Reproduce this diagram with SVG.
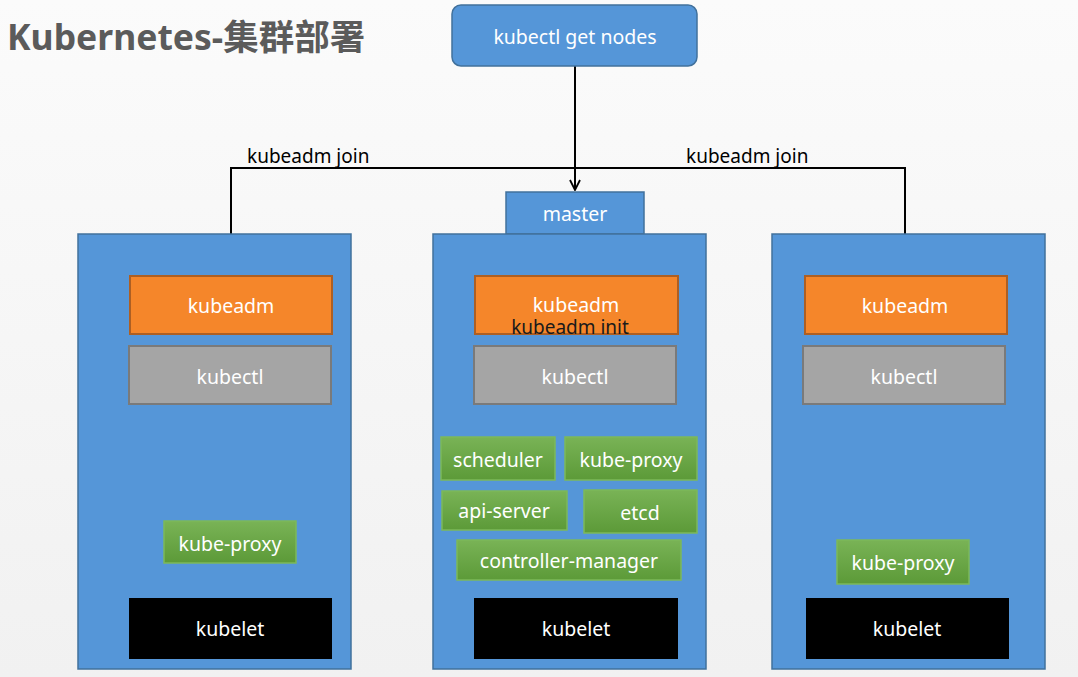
<svg xmlns="http://www.w3.org/2000/svg" width="1078" height="677" viewBox="0 0 1078 677">
<defs>
<linearGradient id="bg" x1="0" y1="0" x2="0" y2="1">
<stop offset="0" stop-color="#fbfbfb"/><stop offset="1" stop-color="#f1f1f1"/>
</linearGradient>
<linearGradient id="gr" x1="0" y1="0" x2="0" y2="1">
<stop offset="0" stop-color="#79b356"/><stop offset="1" stop-color="#5c9a38"/>
</linearGradient>
<marker id="arr" viewBox="0 0 12 12" refX="11" refY="6" markerWidth="12" markerHeight="12" markerUnits="userSpaceOnUse" orient="auto">
<path d="M1,1 L11,6 L1,11" fill="none" stroke="#000" stroke-width="1.8"/>
</marker>
<style>
text{font-family:"Noto Sans","Noto Sans CJK SC",sans-serif;}
.t{fill:#fff;font-size:19.5px;text-anchor:middle;dominant-baseline:central;}
.lbl{fill:#000;font-size:19px;}
.cont{fill:#5596d8;stroke:#41719c;stroke-width:1.5;}
.adm{fill:#f5862a;stroke:#ad5f23;stroke-width:2;}
.ctl{fill:#a5a5a5;stroke:#7a7a7a;stroke-width:2;}
.grn{fill:url(#gr);stroke:#7cb95a;stroke-width:1.5;}
.blk{fill:#000;}
.ln{fill:none;stroke:#000;stroke-width:2;}
</style>
</defs>
<rect width="1078" height="677" fill="url(#bg)"/>
<text x="7" y="50" font-size="35.5" font-weight="bold" fill="#5b5b5b">Kubernetes-集群部署</text>

<g id="connectors">
<path class="ln" d="M575,66 V190" marker-end="url(#arr)"/>
<path class="ln" d="M231,276 V168 H905 V276"/>
<text class="lbl" x="247" y="163">kubeadm join</text>
<text class="lbl" x="686" y="163">kubeadm join</text>
</g>

<g id="get-nodes">
<rect x="452" y="5" width="245" height="61" rx="9" fill="#5596d8" stroke="#41719c" stroke-width="1.5"/>
<text class="t" x="575" y="36">kubectl get nodes</text>
</g>

<g id="node-left">
<rect class="cont" x="78" y="234" width="273" height="435"/>
<g id="left-kubeadm"><rect class="adm" x="130" y="276" width="202" height="58"/><text class="t" x="231" y="305">kubeadm</text></g>
<g id="left-kubectl"><rect class="ctl" x="129" y="346" width="202" height="58"/><text class="t" x="230" y="376">kubectl</text></g>
<g id="left-kube-proxy"><rect class="grn" x="164" y="521" width="132" height="42"/><text class="t" x="230" y="543">kube-proxy</text></g>
<g id="left-kubelet"><rect class="blk" x="129" y="598" width="203" height="61"/><text class="t" x="230" y="628">kubelet</text></g>
</g>

<g id="node-master">
<rect class="cont" x="506" y="192" width="138" height="42"/>
<text class="t" x="575" y="213">master</text>
<rect class="cont" x="433" y="234" width="273" height="435"/>
<g id="master-kubeadm"><rect class="adm" x="475" y="276" width="203" height="58"/><text class="t" x="576" y="304">kubeadm</text>
<text x="570" y="334" font-size="19" fill="#1a1a1a" text-anchor="middle">kubeadm init</text></g>
<g id="master-kubectl"><rect class="ctl" x="474" y="346" width="202" height="58"/><text class="t" x="575" y="376">kubectl</text></g>
<g id="scheduler"><rect class="grn" x="441" y="437" width="114" height="43"/><text class="t" x="498" y="459">scheduler</text></g>
<g id="master-kube-proxy"><rect class="grn" x="565" y="437" width="132" height="43"/><text class="t" x="631" y="459">kube-proxy</text></g>
<g id="api-server"><rect class="grn" x="442" y="491" width="125" height="39"/><text class="t" x="504" y="510">api-server</text></g>
<g id="etcd"><rect class="grn" x="584" y="490" width="113" height="43"/><text class="t" x="640" y="512">etcd</text></g>
<g id="controller-manager"><rect class="grn" x="457" y="540" width="224" height="40"/><text class="t" x="569" y="560">controller-manager</text></g>
<g id="master-kubelet"><rect class="blk" x="474" y="598" width="204" height="61"/><text class="t" x="576" y="628">kubelet</text></g>
</g>

<g id="node-right">
<rect class="cont" x="772" y="234" width="273" height="435"/>
<g id="right-kubeadm"><rect class="adm" x="805" y="276" width="202" height="58"/><text class="t" x="905" y="305">kubeadm</text></g>
<g id="right-kubectl"><rect class="ctl" x="803" y="346" width="202" height="58"/><text class="t" x="904" y="376">kubectl</text></g>
<g id="right-kube-proxy"><rect class="grn" x="837" y="540" width="132" height="44"/><text class="t" x="903" y="562">kube-proxy</text></g>
<g id="right-kubelet"><rect class="blk" x="806" y="598" width="203" height="61"/><text class="t" x="907" y="628">kubelet</text></g>
</g>
</svg>
